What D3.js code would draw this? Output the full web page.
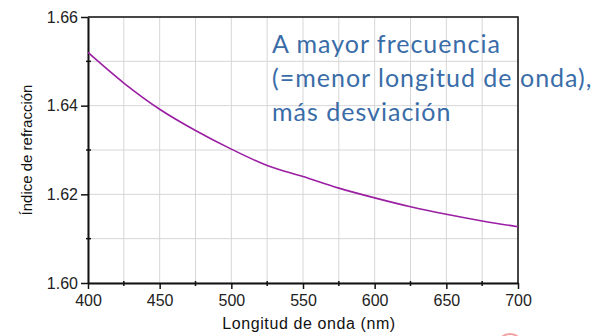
<!DOCTYPE html>
<html>
<head>
<meta charset="utf-8">
<script src="https://cdn.jsdelivr.net/npm/d3@7"></script>
<style>
  html, body { margin: 0; padding: 0; background: #fff; }
  svg { display: block; }
</style>
</head>
<body>
<svg id="chart" width="613" height="336"></svg>
<script>
// Refractive index of glass versus wavelength
const wavelengths = [400, 425, 450, 475, 500, 525, 550, 575, 600, 625, 650, 675, 700];
const indexValues = [1.6520, 1.6451, 1.6392, 1.6344, 1.6302, 1.6265, 1.6240, 1.6214, 1.6192, 1.6172, 1.6155, 1.6140, 1.6127];
const xTickLabels = [400, 450, 500, 550, 600, 650, 700];
const yTickLabels = [1.60, 1.62, 1.64, 1.66];
const xMinorTicks = [425, 475, 525, 575, 625, 675];
const yMinorTicks = [1.61, 1.63, 1.65];
const noteLines = ["A mayor frecuencia", "(=menor longitud de onda),", "más desviación"];

const svg = d3.select("#chart");
const plot = { left: 88, right: 518, top: 17, bottom: 283 };

const x = d3.scaleLinear().domain([400, 700]).range([plot.left, plot.right]);
const y = d3.scaleLinear().domain([1.60, 1.66]).range([plot.bottom, plot.top]);

const gridX = xTickLabels.concat(xMinorTicks);
const gridY = yTickLabels.concat(yMinorTicks);

// grid
const grid = svg.append("g").attr("stroke", "#d6d6d6").attr("stroke-width", 1);
grid.selectAll("line.gx").data(gridX).join("line")
  .attr("x1", d => x(d)).attr("x2", d => x(d))
  .attr("y1", plot.top).attr("y2", plot.bottom);
grid.selectAll("line.gy").data(gridY).join("line")
  .attr("y1", d => y(d)).attr("y2", d => y(d))
  .attr("x1", plot.left).attr("x2", plot.right);

// frame (top and right)
svg.append("path")
  .attr("d", `M${plot.left},${plot.top}H${plot.right}V${plot.bottom}`)
  .attr("fill", "none").attr("stroke", "#111").attr("stroke-width", 1.5);

const tickFont = "'Liberation Sans', Arial, sans-serif";

// x axis
const xAxis = svg.append("g").attr("transform", `translate(0,${plot.bottom})`)
  .call(d3.axisBottom(x).tickValues(xTickLabels).tickFormat(d3.format("d")).tickSize(6).tickPadding(6).tickSizeOuter(0));
xAxis.select(".domain").attr("stroke", "#111").attr("stroke-width", 2);
xAxis.selectAll(".tick line").attr("stroke", "#111").attr("stroke-width", 1.5);
xAxis.selectAll("text").attr("font-family", tickFont).attr("font-size", 16).attr("fill", "#222");
svg.append("g").selectAll("line").data(xMinorTicks).join("line")
  .attr("x1", d => x(d)).attr("x2", d => x(d))
  .attr("y1", plot.bottom - 2).attr("y2", plot.bottom + 3)
  .attr("stroke", "#111").attr("stroke-width", 1.5);

// y axis
const yAxis = svg.append("g").attr("transform", `translate(${plot.left},0)`)
  .call(d3.axisLeft(y).tickValues(yTickLabels).tickFormat(d3.format(".2f")).tickSize(7).tickPadding(3).tickSizeOuter(0));
yAxis.select(".domain").attr("stroke", "#111").attr("stroke-width", 2);
yAxis.selectAll(".tick line").attr("stroke", "#111").attr("stroke-width", 1.5);
yAxis.selectAll("text").attr("font-family", tickFont).attr("font-size", 16).attr("fill", "#222");
svg.append("g").selectAll("line").data(yMinorTicks).join("line")
  .attr("y1", d => y(d)).attr("y2", d => y(d))
  .attr("x1", plot.left - 2).attr("x2", plot.left + 3)
  .attr("stroke", "#111").attr("stroke-width", 1.5);

// axis titles
svg.append("text")
  .attr("x", 309).attr("y", 329)
  .attr("text-anchor", "middle")
  .attr("font-family", tickFont).attr("font-size", 16).attr("fill", "#111")
  .attr("letter-spacing", 0.6)
  .text("Longitud de onda (nm)");
svg.append("text")
  .attr("transform", `translate(32,${(plot.top + plot.bottom) / 2}) rotate(-90)`)
  .attr("text-anchor", "middle")
  .attr("font-family", tickFont).attr("font-size", 15).attr("fill", "#111")
  .text("Índice de refracción");

// dispersion curve
const line = d3.line()
  .x((d, i) => x(wavelengths[i]))
  .y(d => y(d))
  .curve(d3.curveCatmullRom.alpha(0.5));
svg.append("path")
  .datum(indexValues)
  .attr("d", line)
  .attr("fill", "none")
  .attr("stroke", "#9b1fa3")
  .attr("stroke-width", 1.6);

// note
const note = svg.append("text")
  .attr("font-family", "Lato, 'Open Sans', sans-serif")
  .attr("font-size", 25)
  .attr("letter-spacing", 1)
  .attr("fill", "#3a6da8");
note.selectAll("tspan").data(noteLines).join("tspan")
  .attr("x", 272)
  .attr("y", (d, i) => 53 + i * 34)
  .text(d => d);

// small red marker at the lower edge
svg.append("circle")
  .attr("cx", 510).attr("cy", 347).attr("r", 13)
  .attr("fill", "none").attr("stroke", "#f3a0a0").attr("stroke-width", 2);
</script>
</body>
</html>
